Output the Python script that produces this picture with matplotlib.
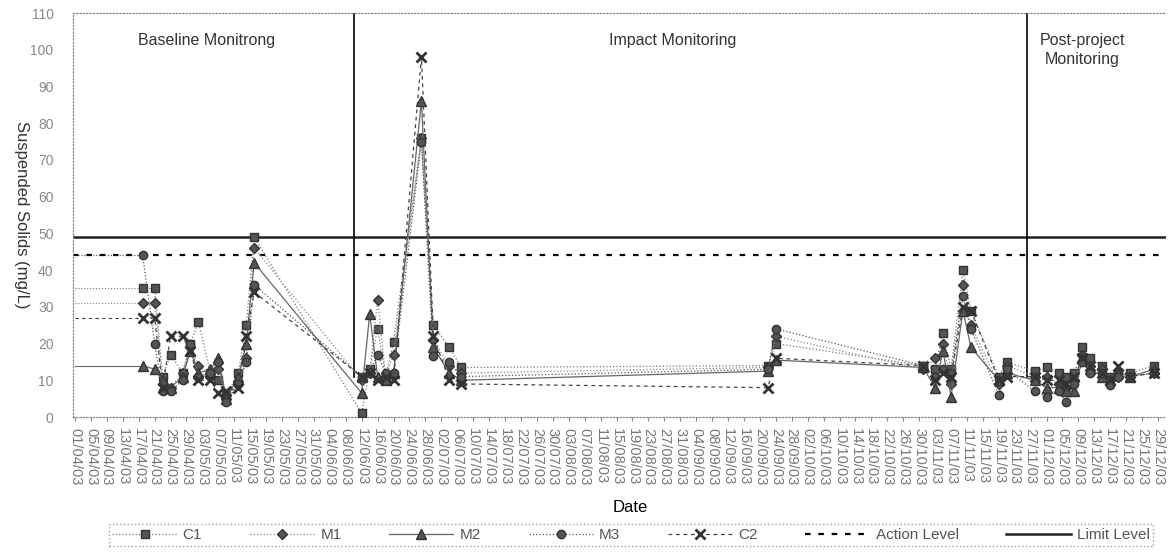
import numpy as np
import pandas as pd
import matplotlib
matplotlib.use("Agg")
import matplotlib.pyplot as plt
import matplotlib.dates as mdates

plt.rcParams['font.family'] = ['Liberation Sans', 'DejaVu Sans']

# sampling dates (dd/mm, year 2003) and suspended solids (mg/L)
dates = ['18/04', '21/04', '23/04', '25/04', '28/04', '30/04', '02/05', '05/05', '07/05', '09/05',
         '12/05', '14/05', '16/05',
         '12/06', '14/06', '16/06', '18/06', '20/06', '27/06', '30/06', '04/07', '07/07',
         '22/09', '24/09',
         '31/10', '03/11', '05/11', '07/11', '10/11', '12/11', '19/11', '21/11',
         '28/11', '01/12', '04/12', '06/12', '08/12', '10/12', '12/12', '15/12', '17/12',
         '19/12', '22/12', '28/12']
c1 = [35, 35, 11, 17, 12, 20, 26, 12, 10, 6, 12, 25, 49,
      1, 13, 24, 11, 20.5, 76, 25, 19, 13.5,
      14, 20,
      14, 13, 23, 13, 40, 29, 11, 15,
      12.5, 13.5, 12, 11, 12, 19, 16, 14, 11, 12, 12, 14]
m1 = [31, 31, 9, 8, 12, 19, 14, 11, 13, 5, 9, 16, 46,
      10, 12, 32, 11, 17, 76, 21, 14, 12,
      13.5, 22,
      13, 16, 20, 9, 36, 25, 9, 14,
      11, 11, 9, 8, 10, 17, 14, 13, 10, 11, 11, 12]
m2 = [14, 13, 10, 8, 11, 18, 12, 13, 16, 5, 11, 20, 42,
      6.5, 28, 11, 10, 12, 86, 19, 12, 10,
      12.5, 15.5,
      13.5, 8, 18, 5.5, 29, 19, 10, 12,
      10, 8, 8, 7, 7, 16, 13, 11, 10, 12, 11, 13]
m3 = [44, 20, 7, 7, 10, 20, 11, 12, 15, 4, 9, 15, 36,
      11, 12, 17, 12, 12, 75, 16.5, 15, 11,
      13, 24,
      14, 11, 13, 12, 33, 24, 6, 13,
      7, 5.5, 7, 4, 9, 15, 12, 12, 8.7, 11, 11, 12]
c2 = [27, 27, 8, 22, 22, 18, 10, 10, 6.5, 7, 8, 22, 34,
      11, 12, 10, 11, 10, 98, 22, 10, 9,
      8, 16,
      14, 10, 12, 11, 30, 29, 10, 11,
      11, 10, 10, 9, 11, 16, 14, 12, 10, 14, 11, 12]

action_level = 44
limit_level = 49
phase_starts = ['10/06', '26/11']
phase_names = ['Baseline Monitrong', 'Impact Monitoring', 'Post-project\nMonitoring']
phase_label_dates = ['04/05', '29/08', '10/12']

x = pd.to_datetime([d + '/2003' for d in dates], format='%d/%m/%Y')
start = pd.Timestamp('2003-04-01')
end = pd.Timestamp('2003-12-31')

fig = plt.figure(figsize=(11.72, 5.57), dpi=100)
ax = fig.add_axes([0.0623, 0.2513, 0.9326, 0.7253])

series = [
    ('C1', c1, dict(marker='s', ls=':', color='#777777', ms=6)),
    ('M1', m1, dict(marker='D', ls=':', color='#888888', ms=5)),
    ('M2', m2, dict(marker='^', ls='-', color='#666666', ms=6.5)),
    ('M3', m3, dict(marker='o', ls=':', color='#555555', ms=6)),
    ('C2', c2, dict(marker='x', ls=(0, (3, 3)), color='#444444', ms=7, mew=2)),
]
handles = []
for name, vals, st in series:
    h, = ax.plot(x, vals, lw=0.9, mfc='#555555', mec='#333333', label=name, zorder=3, **st)
    # lead-in line from the start of the axis to the first sample
    ax.plot([start, x[0]], [vals[0], vals[0]], lw=0.8, ls=st['ls'], color=st['color'], zorder=2)
    handles.append(h)

ha = ax.axhline(action_level, color='black', lw=1.6, ls=(0, (2.5, 3.5)), label='Action Level')
hl = ax.axhline(limit_level, color='#222222', lw=1.8, ls='-', label='Limit Level')
handles += [ha, hl]

for d in phase_starts:
    xd = pd.to_datetime(d + '/2003', format='%d/%m/%Y')
    ax.plot([xd, xd], [110, 11], color='black', lw=1.2, zorder=2)

for name, d in zip(phase_names, phase_label_dates):
    xd = pd.to_datetime(d + '/2003', format='%d/%m/%Y')
    ax.text(xd, 104.5, name, ha='center', va='top', fontsize=11.5, color='#333333',
            linespacing=1.35)

ax.set_xlim(start - pd.Timedelta(days=0.5), end)
ax.set_ylim(0, 110)
ax.set_yticks(np.arange(0, 111, 10))
ticks = pd.date_range(start, end, freq='4D')
ax.set_xticks(ticks)
ax.xaxis.set_major_formatter(mdates.DateFormatter('%d/%m/%y'))
ax.tick_params(axis='x', rotation=270, labelsize=10.5, colors='#888888', length=3, pad=5)
ax.tick_params(axis='y', labelsize=10, colors='#888888', length=0, pad=14)
for lab in ax.get_xticklabels():
    lab.set_color('#777777')

for side in ['left', 'bottom', 'top']:
    ax.spines[side].set_linestyle(':')
    ax.spines[side].set_color('#888888')
    ax.spines[side].set_linewidth(0.9)
ax.spines['right'].set_visible(False)

ax.set_xlabel('Date', fontsize=12, va='center')
ax.xaxis.set_label_coords(0.51, -0.225)
ax.set_ylabel('Suspended Solids (mg/L)', fontsize=12, rotation=270, color='#333333')
ax.yaxis.set_label_coords(-0.054, 0.5)

leg = fig.legend(handles=handles, loc='lower left', ncol=7, mode='expand',
                 bbox_to_anchor=(101 / 1172, 0.006, 1060 / 1172, 0.04),
                 fontsize=11, handlelength=4.2, handletextpad=0.4, frameon=True,
                 fancybox=False, borderpad=0.25)
leg.get_frame().set_linestyle(':')
leg.get_frame().set_edgecolor('#888888')
for t in leg.get_texts():
    t.set_color('#555555')

fig.savefig('out.png', dpi=100)
